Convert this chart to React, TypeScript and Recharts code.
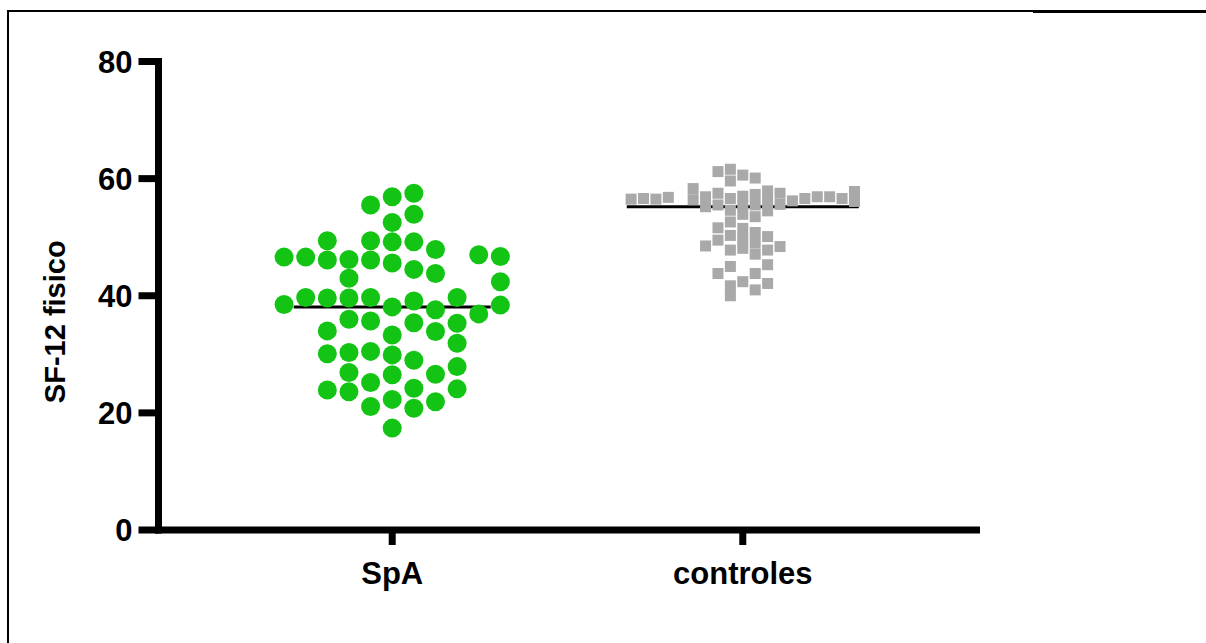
import { ComposedChart, Scatter, XAxis, YAxis, ReferenceLine, Label } from "recharts";

// SpA group: values and beeswarm slot (column) of each dot
const spaValues = [
  55.5, 56.9, 57.5, 52.5, 53.9, 49.4, 49.4, 49.2, 49.2, 47.9,
  46.6, 46.6, 46.1, 46.2, 46.1, 45.6, 44.5, 43.8, 47.0, 46.7,
  43.0, 42.4, 38.5, 39.7, 39.6, 39.6, 39.7, 38.1, 39.1, 37.6,
  39.7, 36.9, 38.4, 36.0, 35.7, 35.4, 33.9, 35.3, 34.0, 33.3,
  31.9, 30.1, 30.3, 30.5, 29.9, 29.0, 26.9, 25.2, 26.5, 26.6,
  27.9, 23.9, 23.6, 24.2, 24.1, 21.1, 22.3, 20.8, 21.9, 17.4,
];
const spaSlots = [
  -1, 0, 1, 0, 1, -3, -1, 0, 1, 2,
  -5, -4, -3, -2, -1, 0, 1, 2, 4, 5,
  -2, 5, -5, -4, -3, -2, -1, 0, 1, 2,
  3, 4, 5, -2, -1, 1, 2, 3, -3, 0,
  3, -3, -2, -1, 0, 1, -2, -1, 0, 2,
  3, -3, -2, 1, 3, -1, 0, 1, 2, 0,
];

// controles group
const controlValues = [
  56.5, 56.6, 56.5, 56.8,
  58.3, 56.4,
  56.9, 55.2, 48.5,
  61.2, 57.5, 55.5, 51.6, 49.5, 43.8,
  61.6, 59.6, 56.6, 54.6, 52.6, 50.3, 47.8, 45.0, 41.7, 40.0,
  60.6, 57.0, 55.5, 53.9, 51.5, 49.8, 48.1, 42.4,
  60.1, 57.3, 55.5, 53.5, 50.8, 49.0, 47.1, 43.8, 41.0,
  57.9, 56.1, 54.5, 50.1, 47.8, 45.3, 42.1,
  57.5, 55.6, 48.4,
  56.2, 56.6, 56.9, 56.9, 56.6,
  57.8, 56.1,
];
const controlSlots = [
  -9, -8, -7, -6,
  -4, -4,
  -3, -3, -3,
  -2, -2, -2, -2, -2, -2,
  -1, -1, -1, -1, -1, -1, -1, -1, -1, -1,
  0, 0, 0, 0, 0, 0, 0, 0,
  1, 1, 1, 1, 1, 1, 1, 1, 1,
  2, 2, 2, 2, 2, 2, 2,
  3, 3, 3,
  4, 5, 6, 7, 8,
  9, 9,
];

const categories = ["SpA", "controles"];
const medians = [38.1, 55.2];
const yTicks = [0, 20, 40, 60, 80];

const spaStep = 0.0617;
const controlStep = 0.0354;

const spaData = spaValues.map((y, i) => ({ x: 1 + spaSlots[i] * spaStep, y }));
const controlData = controlValues.map((y, i) => ({ x: 2 + controlSlots[i] * controlStep, y }));

const font = "'Liberation Sans', Arial, sans-serif";

const GreenDot = (props: any) => <circle cx={props.cx} cy={props.cy} r={9.5} fill="#14c414" />;
const GraySquare = (props: any) => (
  <rect x={props.cx - 5.5} y={props.cy - 5.5} width={11} height={11} fill="#a9a9a9" />
);

export default function App() {
  return (
    <div style={{ position: "absolute", left: 0, top: 0, width: 1206, height: 643, background: "#fff" }}>
      <div style={{ position: "absolute", left: 7, top: 10, width: 1026, height: 1.5, background: "#000" }} />
      <div style={{ position: "absolute", left: 1033, top: 10, width: 173, height: 3, background: "#000" }} />
      <div style={{ position: "absolute", left: 7, top: 10, width: 1.5, height: 633, background: "#000" }} />
      <ComposedChart
        width={1206}
        height={643}
        margin={{ top: 61.5, right: 229.5, bottom: 0, left: 0 }}
        style={{ position: "absolute", left: 0, top: 0 }}
      >
        <XAxis
          type="number"
          dataKey="x"
          domain={[1 / 3, 8 / 3]}
          ticks={[1, 2]}
          tickFormatter={(v: number) => categories[Math.round(v) - 1]}
          height={113}
          tickSize={15}
          tickMargin={17}
          axisLine={{ stroke: "#000", strokeWidth: 7, strokeLinecap: "square" }}
          tickLine={{ stroke: "#000", strokeWidth: 7 }}
          tick={{ fill: "#000", fontSize: 31, fontWeight: 700, fontFamily: font }}
          allowDataOverflow
        />
        <YAxis
          type="number"
          dataKey="y"
          domain={[0, 80]}
          ticks={yTicks}
          width={158.5}
          tickSize={20}
          tickMargin={6}
          axisLine={{ stroke: "#000", strokeWidth: 7, strokeLinecap: "square" }}
          tickLine={{ stroke: "#000", strokeWidth: 7 }}
          tick={{ fill: "#000", fontSize: 31, fontWeight: 700, fontFamily: font }}
        >
          <Label
            content={({ viewBox }: any) => {
              const cx = viewBox.x + 55;
              const cy = viewBox.y + viewBox.height / 2 + 26;
              return (
                <text
                  x={cx}
                  y={cy}
                  transform={`rotate(-90 ${cx} ${cy})`}
                  textAnchor="middle"
                  dominantBaseline="central"
                  fill="#000"
                  fontSize={29}
                  fontWeight={700}
                  fontFamily={font}
                >
                  SF-12 fisico
                </text>
              );
            }}
          />
        </YAxis>
        <ReferenceLine
          segment={[{ x: 1 - 0.281, y: medians[0] }, { x: 1 + 0.281, y: medians[0] }]}
          stroke="#000"
          strokeWidth={3}
        />
        <ReferenceLine
          segment={[{ x: 2 - 0.331, y: medians[1] }, { x: 2 + 0.331, y: medians[1] }]}
          stroke="#000"
          strokeWidth={3}
        />
        <Scatter data={spaData} dataKey="y" shape={GreenDot} isAnimationActive={false} />
        <Scatter data={controlData} dataKey="y" shape={GraySquare} isAnimationActive={false} />
      </ComposedChart>
    </div>
  );
}
